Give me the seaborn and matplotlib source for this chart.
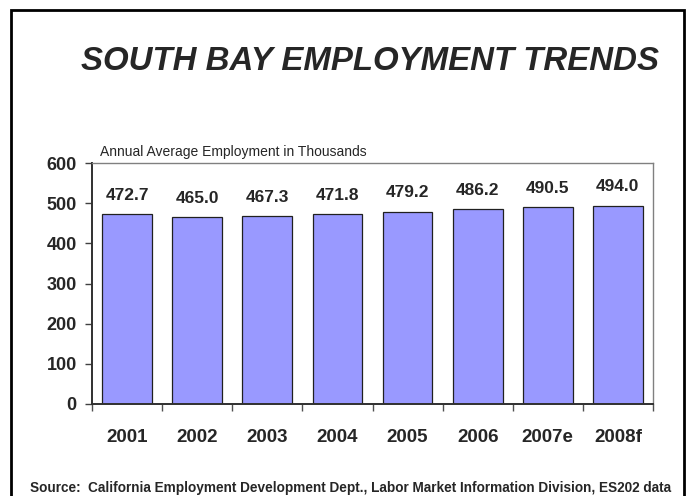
import matplotlib
matplotlib.use("Agg")
import matplotlib.pyplot as plt
import matplotlib.patches as mpatches
import seaborn as sns
import pandas as pd

years = ["2001", "2002", "2003", "2004", "2005", "2006", "2007e", "2008f"]
employment = [472.7, 465.0, 467.3, 471.8, 479.2, 486.2, 490.5, 494.0]
y_ticks = [0, 100, 200, 300, 400, 500, 600]

title = "SOUTH BAY EMPLOYMENT TRENDS"
subtitle = "Annual Average Employment in Thousands"
source = "Source:  California Employment Development Dept., Labor Market Information Division, ES202 data"

sns.set_theme(style="white")
plt.rcParams["font.family"] = ["Liberation Sans", "DejaVu Sans"]

df = pd.DataFrame({"year": years, "emp": employment})

W, H = 686, 496
fig = plt.figure(figsize=(W / 100, H / 100), dpi=100)
fig.patch.set_facecolor("white")

left, right, top, bottom = 92, 653, 163, 404
ax = fig.add_axes([left / W, (H - bottom) / H, (right - left) / W, (bottom - top) / H])

sns.barplot(data=df, x="year", y="emp", color="#9999FF", saturation=1,
            width=0.71, edgecolor="#202020", linewidth=0.9, ax=ax)

ax.set_ylim(0, 600)
ax.set_xlim(-0.5, len(years) - 0.5)
ax.set_yticks(y_ticks)
ax.set_yticklabels([str(v) for v in y_ticks], fontsize=13, fontweight="bold")
ax.set_xlabel("")
ax.set_ylabel("")

# x labels as major ticks (no mark), boundaries as minor ticks
ax.set_xticks(range(len(years)))
ax.set_xticklabels(years, fontsize=13.5, fontweight="bold")
ax.tick_params(axis="x", which="major", length=0, pad=18)
ax.set_xticks([i - 0.5 for i in range(len(years) + 1)], minor=True)
ax.tick_params(axis="x", which="minor", length=5, width=1, color="#505050", direction="out", bottom=True)
ax.tick_params(axis="y", which="major", length=5, width=1, color="#404040", direction="out", left=True, pad=6)

for s in ["left", "bottom"]:
    ax.spines[s].set_color("#303030")
    ax.spines[s].set_linewidth(1.4)
for s in ["top", "right"]:
    ax.spines[s].set_visible(True)
    ax.spines[s].set_color("#808080")
    ax.spines[s].set_linewidth(1.0)

for i, v in enumerate(employment):
    ax.annotate(f"{v:.1f}", xy=(i, v), xytext=(0, 8), textcoords="offset points",
                ha="center", va="bottom", fontsize=12.5, fontweight="bold")

fig.text(370 / W, 1 - 62 / H, title, ha="center", va="center",
         fontsize=23.8, fontweight="bold", fontstyle="italic")
fig.text(100 / W, 1 - 152 / H, subtitle, ha="left", va="center", fontsize=10)
fig.text(351 / W, 1 - 488 / H, source, ha="center", va="center", fontsize=9.8, fontweight="bold")

border = mpatches.Rectangle((11 / W, -0.05), (684 - 11) / W, 1.05 - 10 / H,
                            transform=fig.transFigure, fill=False,
                            edgecolor="black", linewidth=2, clip_on=False)
fig.patches.append(border)

fig.savefig("out.png", dpi=100)
